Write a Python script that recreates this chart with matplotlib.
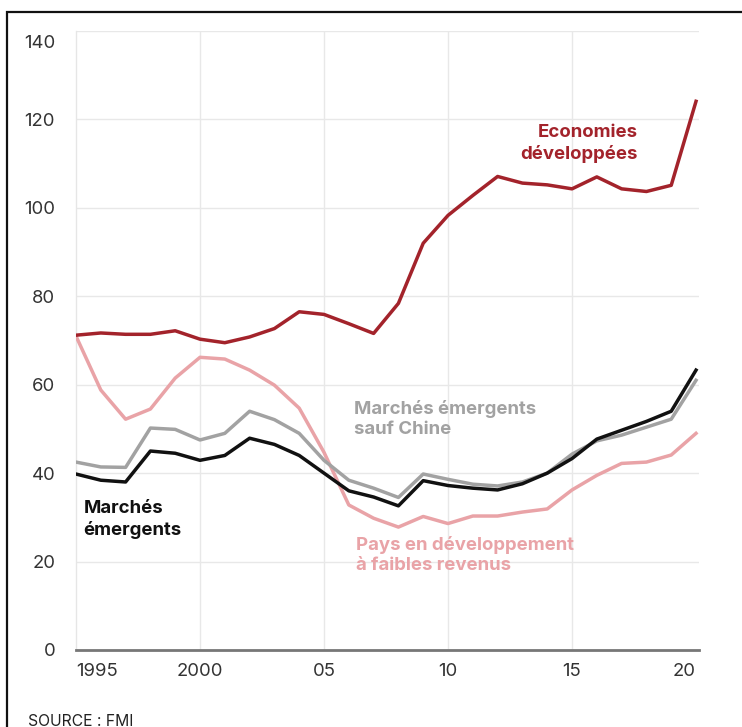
import matplotlib
matplotlib.use("Agg")
import matplotlib.pyplot as plt
from matplotlib.patches import Rectangle
import matplotlib.transforms as mtrans

years = list(range(1995, 2021))

eco_dev = [71.2, 71.7, 71.4, 71.4, 72.2, 70.3, 69.5, 70.8, 72.7, 76.5, 75.9, 73.8, 71.6,
           78.4, 92.0, 98.3, 102.8, 107.1, 105.6, 105.2, 104.3, 107.0, 104.3, 103.7, 105.1, 124.1]
pays_faibles = [71.0, 58.8, 52.2, 54.5, 61.5, 66.2, 65.8, 63.3, 59.9, 54.7, 44.7, 32.8, 29.8,
                27.8, 30.2, 28.6, 30.3, 30.3, 31.2, 31.9, 36.2, 39.5, 42.2, 42.5, 44.1, 49.0]
emergents = [39.8, 38.4, 38.0, 45.0, 44.5, 42.9, 44.0, 47.9, 46.5, 44.0, 40.0, 36.0, 34.6,
             32.6, 38.3, 37.2, 36.6, 36.2, 37.6, 40.0, 43.3, 47.7, 49.7, 51.7, 54.0, 63.3]
emergents_hors_chine = [42.5, 41.4, 41.3, 50.2, 49.9, 47.5, 49.0, 54.0, 52.1, 49.0, 42.9, 38.4, 36.6,
                        34.5, 39.8, 38.6, 37.5, 37.1, 38.0, 40.0, 44.3, 47.3, 48.6, 50.4, 52.2, 61.0]

yticks = [0, 20, 40, 60, 80, 100, 120, 140]
xticks = [1995, 2000, 2005, 2010, 2015, 2020]
xticklabels = ["1995", "2000", "05", "10", "15", "20"]
xgrid = [2000, 2005, 2010, 2015]

FONT = "Inter"
plt.rcParams['font.family'] = [FONT, 'DejaVu Sans']

fig = plt.figure(figsize=(7.42, 7.27), dpi=100)
ax = fig.add_axes([76/742, 1-650/727, (699-76)/742, (650-31)/727])

RED = "#a3232b"
PINK = "#e9a3a7"
GRAY = "#a2a2a2"
BLACK = "#111111"

ax.plot(years, pays_faibles, color=PINK, lw=2.5, solid_joinstyle='round', zorder=3)
ax.plot(years, emergents_hors_chine, color=GRAY, lw=2.5, solid_joinstyle='round', zorder=4)
ax.plot(years, emergents, color=BLACK, lw=2.5, solid_joinstyle='round', zorder=5)
ax.plot(years, eco_dev, color=RED, lw=2.5, solid_joinstyle='round', zorder=6)

ax.set_xlim(1995, 2020.12)
ax.set_ylim(0, 140)
ax.set_yticks(yticks)
ax.set_xticks(xticks)
ax.set_xticklabels(xticklabels)
for s in ['top', 'right']:
    ax.spines[s].set_visible(False)
ax.spines['left'].set_color('#e6e6e6')
ax.spines['left'].set_linewidth(1.0)
ax.spines['bottom'].set_color('#777777')
ax.spines['bottom'].set_linewidth(2.0)
ax.spines['bottom'].set_zorder(7)

ax.grid(True, axis='y', color='#e8e8e8', lw=1.0, zorder=0)
for xv in xgrid:
    ax.axvline(xv, color='#e8e8e8', lw=1.0, zorder=0)
ax.set_axisbelow(True)
ax.tick_params(length=0, labelsize=13.3, labelcolor='#333333')
ax.tick_params(axis='y', pad=15)
ax.tick_params(axis='x', pad=9)

labels = ax.get_xticklabels()
labels[0].set_ha('left')
labels[-1].set_ha('right')
ylabels = ax.get_yticklabels()
ylabels[-1].set_transform(ylabels[-1].get_transform() +
                          mtrans.ScaledTranslation(0, -11/100, fig.dpi_scale_trans))

tkw = dict(fontsize=13.4, fontweight='bold', linespacing=1.25)
ax.text(2017.66, 114.6, "Economies\ndéveloppées", color=RED, ha='right', va='center', **tkw)
ax.text(2006.2, 52.3, "Marchés émergents\nsauf Chine", color=GRAY, ha='left', va='center', **tkw)
ax.text(1995.3, 29.5, "Marchés\némergents", color=BLACK, ha='left', va='center', **tkw)
ax.text(2006.3, 21.5, "Pays en développement\nà faibles revenus", color=PINK, ha='left', va='center', **tkw)

fig.text(28/742, 1-721/727, "SOURCE : FMI", fontsize=11.3, color='#222222', ha='left', va='center')

fig.patches.append(Rectangle((7/742, -0.05), 1.0, 1-12/727 + 0.05, transform=fig.transFigure,
                             fill=False, edgecolor='#111111', lw=1.6))

fig.savefig("out.png", dpi=100)
